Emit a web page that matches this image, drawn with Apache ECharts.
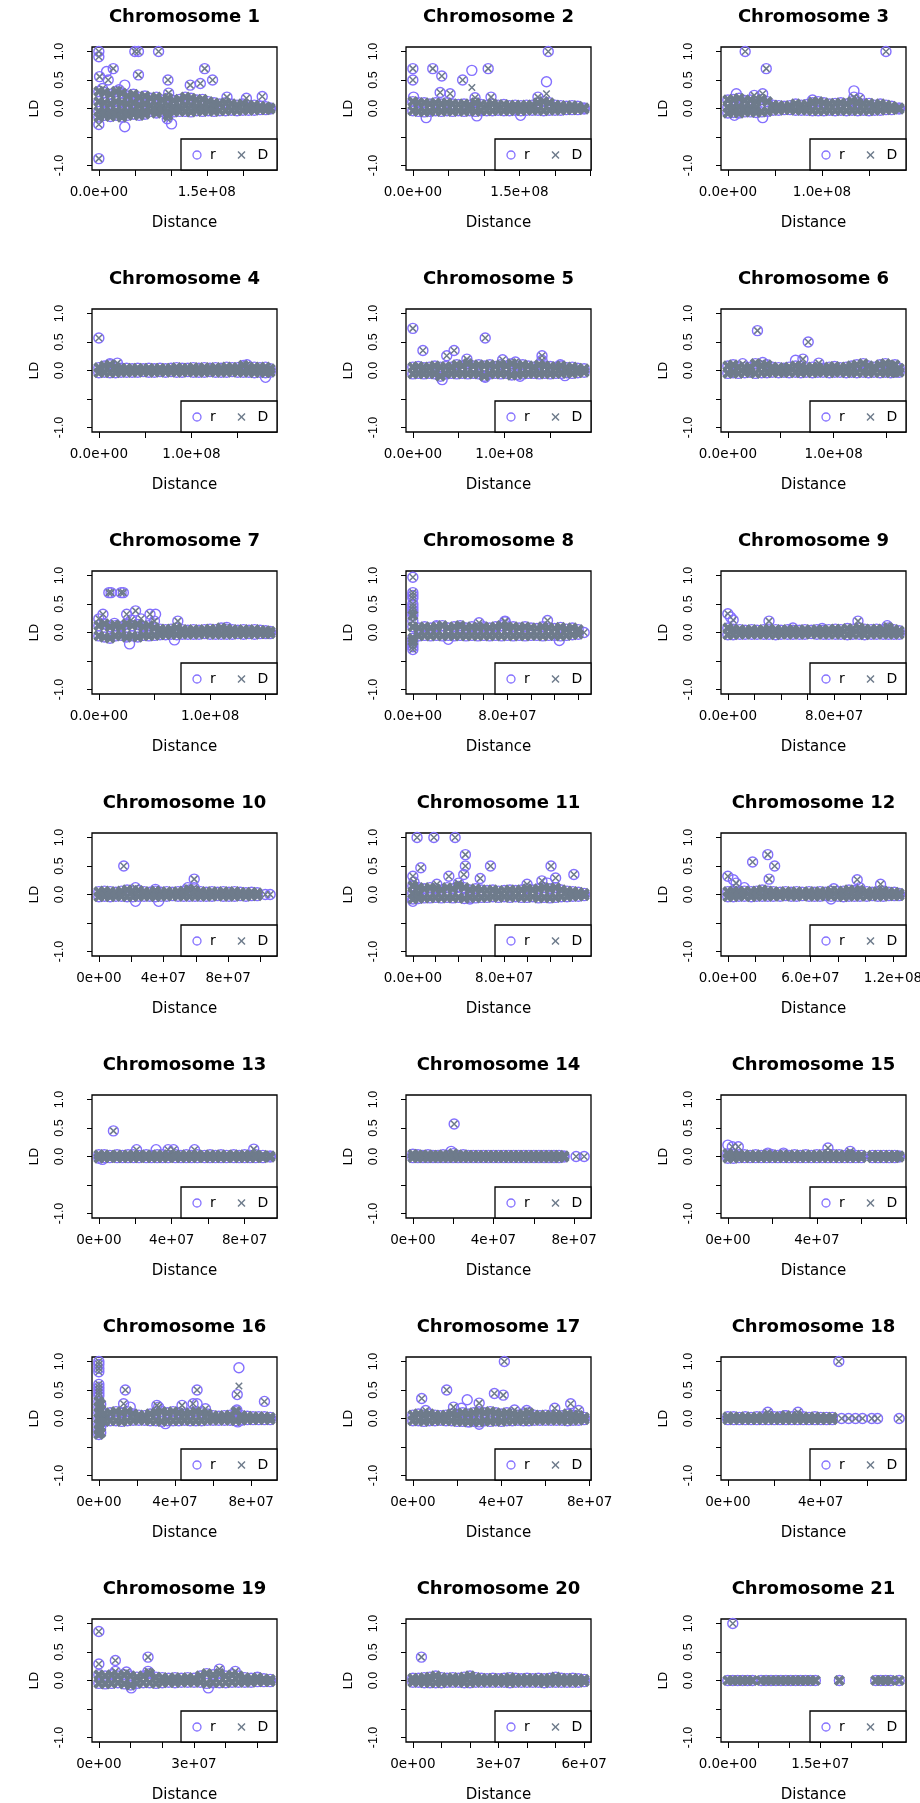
<!DOCTYPE html>
<html><head><meta charset="utf-8">
<script src="https://cdn.jsdelivr.net/npm/echarts@6/dist/echarts.min.js"></script>
<style>html,body{margin:0;padding:0;background:#fff}#c{width:920px;height:1803px}</style>
</head><body><div id="c"></div>
<script>
// ---------- DATA (distances in Mb, LD values) ----------
const chromosomes = ["Chromosome 1","Chromosome 2","Chromosome 3","Chromosome 4","Chromosome 5","Chromosome 6","Chromosome 7","Chromosome 8","Chromosome 9","Chromosome 10","Chromosome 11","Chromosome 12","Chromosome 13","Chromosome 14","Chromosome 15","Chromosome 16","Chromosome 17","Chromosome 18","Chromosome 19","Chromosome 20","Chromosome 21"];
const tickStepMb = [50,50,50,50,50,50,50,20,20,20,20,20,20,20,20,20,20,20,10,10,5];
const xTickLabels = [["0.0e+00","1.5e+08"],["0.0e+00","1.5e+08"],["0.0e+00","1.0e+08"],["0.0e+00","1.0e+08"],["0.0e+00","1.0e+08"],["0.0e+00","1.0e+08"],["0.0e+00","1.0e+08"],["0.0e+00","8.0e+07"],["0.0e+00","8.0e+07"],["0e+00","4e+07","8e+07"],["0.0e+00","8.0e+07"],["0.0e+00","6.0e+07","1.2e+08"],["0e+00","4e+07","8e+07"],["0e+00","4e+07","8e+07"],["0e+00","4e+07"],["0e+00","4e+07","8e+07"],["0e+00","4e+07","8e+07"],["0e+00","4e+07"],["0e+00","3e+07"],["0e+00","3e+07","6e+07"],["0.0e+00","1.5e+07"]];
const yTicks = [-1,-0.5,0,0.5,1];
const yTickLabels = ["1.0","0.5","0.0","-1.0"];
const legendLabels = ["r","D"];

// dense band: each row = [distance, LD values at that distance (r and D coincide)]
const band = [
 [[0,.3,.12,-.05,-.15],[8,.28,.1,-.05,-.12],[16,.25,.08,-.06,-.14],[24,.3,.12,-.04,-.12],[32,.27,.1,-.05,-.15],[40,.22,.08,-.06,-.12],[48,.25,.1,-.04,-.1],[56,.2,.06,-.05,-.12],[64,.22,.08,-.06,-.1],[72,.18,.05,-.05],[80,.2,.06,-.04,-.08],[88,.15,.04,-.05],[96,.18,.05,-.06,-.12],[104,.14,.03,-.06],[112,.16,.04,-.05],[120,.2,.06,-.05],[128,.18,.05,-.06],[136,.15,.04,-.04],[144,.16,.04,-.05],[152,.12,.02,-.04],[160,.1,.02,-.05],[168,.08,-.04],[176,.1,-.04],[184,.08,-.03],[192,.06,-.04],[200,.08,-.03],[208,.05,-.03],[216,.06,-.03],[224,.04,-.02],[232,.03,-.02],[238,.01,-.01]],
 [[0,.12,-.04],[8,.1,-.05],[16,.1,-.06],[24,.08,-.05],[32,.1,-.04],[40,.08,-.05],[48,.1,-.04],[56,.08,-.05],[64,.07,-.04],[72,.08,-.05],[80,.06,-.04],[88,.1,-.05],[96,.07,-.04],[104,.06,-.04],[112,.08,-.04],[120,.06,-.03],[128,.07,-.04],[136,.05,-.04],[144,.06,-.03],[152,.05,-.04],[160,.06,-.03],[168,.06,-.03],[176,.1,-.03],[184,.12,-.04],[192,.1,-.03],[200,.06,-.03],[208,.05,-.03],[216,.04,-.02],[224,.05,-.02],[232,.04,-.02],[241,.01,-.01]],
 [[0,.15,.02,-.08],[6,.16,.02,-.07],[12,.18,.03,-.08],[18,.14,.02,-.06],[24,.15,.02,-.06],[30,.12,.02,-.07],[36,.16,-.06],[42,.12,-.05],[48,.06,-.03],[54,.05,-.03],[60,.04,-.02],[66,.05,-.02],[72,.08,-.03],[78,.06,-.03],[84,.07,-.03],[90,.1,-.04],[96,.12,-.04],[102,.1,-.04],[108,.08,-.03],[114,.09,-.04],[120,.1,-.03],[126,.08,-.04],[132,.12,-.03],[138,.1,-.04],[144,.08,-.03],[150,.09,-.04],[156,.06,-.03],[162,.08,-.03],[168,.06,-.02],[174,.04,-.02],[182,.01,-.01]],
 [[0,.05,-.04],[6,.08,-.03],[12,.1,-.04],[18,.06,-.04],[24,.04,-.03],[30,.04,-.03],[36,.03,-.03],[42,.04,-.03],[48,.03,-.02],[54,.04,-.03],[60,.03,-.03],[66,.04,-.02],[72,.03,-.03],[78,.04,-.02],[84,.05,-.03],[90,.04,-.03],[96,.04,-.02],[102,.05,-.03],[108,.04,-.03],[114,.05,-.03],[120,.04,-.02],[126,.05,-.03],[132,.04,-.03],[138,.06,-.03],[144,.05,-.02],[150,.05,-.03],[156,.09,-.03],[162,.05,-.03],[168,.06,-.04],[174,.05,-.03],[180,.06,-.04],[185,.03,-.03]],
 [[0,.06,-.06],[6,.07,-.05],[12,.05,-.06],[18,.06,-.05],[24,.08,-.06],[30,.06,-.1],[36,.07,-.06],[42,.06,-.05],[48,.1,-.06],[54,.08,-.05],[60,.12,-.06],[66,.08,-.05],[72,.1,-.06],[78,.08,-.1],[84,.1,-.06],[90,.07,-.05],[96,.1,-.06],[102,.08,-.05],[108,.12,-.08],[114,.08,-.07],[120,.1,-.06],[126,.08,-.05],[132,.06,-.05],[138,.1,-.06],[144,.08,-.05],[150,.07,-.06],[156,.06,-.05],[162,.08,-.05],[168,.05,-.04],[174,.06,-.05],[180,.04,-.04],[187,.03,-.03]],
 [[0,.08,-.05],[5,.1,-.04],[10,.06,-.05],[16,.05,-.04],[21,.06,-.03],[26,.12,-.05],[32,.08,-.04],[37,.1,-.04],[42,.06,-.03],[48,.05,-.04],[53,.04,-.03],[58,.06,-.04],[64,.08,-.03],[69,.07,-.04],[74,.05,-.03],[80,.06,-.04],[85,.05,-.03],[90,.04,-.03],[96,.06,-.04],[101,.07,-.03],[106,.05,-.03],[112,.06,-.04],[117,.08,-.03],[122,.1,-.04],[128,.12,-.03],[133,.08,-.04],[138,.06,-.03],[144,.1,-.04],[149,.12,-.03],[154,.08,-.04],[158,.1,-.03],[162,.04,-.03]],
 [[0,.12,-.06],[5,.15,-.08],[10,.1,-.1],[15,.12,-.06],[20,.1,-.05],[25,.15,-.08],[30,.12,-.06],[35,.14,-.08],[40,.1,-.05],[45,.12,-.06],[50,.08,-.05],[55,.06,-.04],[60,.05,-.04],[65,.06,-.03],[70,.08,-.04],[75,.05,-.03],[80,.04,-.03],[85,.05,-.03],[90,.04,-.03],[95,.05,-.02],[100,.06,-.03],[105,.05,-.03],[110,.08,-.03],[115,.06,-.03],[120,.05,-.03],[125,.04,-.02],[130,.05,-.03],[135,.04,-.02],[140,.05,-.03],[145,.04,-.02],[150,.03,-.02],[154,.02,-.02]],
 [[0,.3,.1,-.1,-.15],[5,.08,-.06],[10,.1,-.05],[15,.08,-.06],[20,.1,-.05],[25,.12,-.06],[30,.08,-.05],[35,.1,-.06],[40,.12,-.05],[45,.08,-.06],[50,.1,-.05],[55,.08,-.06],[60,.1,-.05],[65,.08,-.06],[70,.1,-.05],[75,.12,-.06],[80,.08,-.05],[85,.1,-.06],[90,.08,-.05],[95,.1,-.06],[100,.08,-.05],[105,.07,-.05],[110,.1,-.06],[115,.08,-.05],[120,.07,-.05],[125,.09,-.06],[130,.06,-.05],[135,.08,-.04],[140,.05,-.03]],
 [[0,.08,-.04],[4,.06,-.04],[9,.05,-.03],[13,.04,-.03],[18,.05,-.03],[22,.04,-.03],[27,.05,-.03],[31,.06,-.03],[36,.05,-.04],[40,.04,-.03],[45,.05,-.03],[49,.04,-.03],[54,.04,-.03],[58,.05,-.03],[63,.04,-.02],[67,.05,-.03],[72,.04,-.03],[76,.05,-.03],[81,.06,-.03],[85,.05,-.03],[90,.07,-.04],[94,.06,-.03],[99,.08,-.03],[103,.06,-.04],[108,.05,-.03],[112,.06,-.03],[117,.05,-.03],[121,.08,-.03],[125,.05,-.03],[129,.03,-.03]],
 [[0,.05,-.04],[3.5,.06,-.03],[7,.05,-.04],[10.5,.04,-.03],[14,.06,-.03],[17.5,.08,-.04],[21,.06,-.04],[24.5,.07,-.03],[28,.05,-.03],[31.5,.04,-.03],[35,.06,-.04],[38.5,.04,-.03],[42,.05,-.03],[45.5,.04,-.02],[49,.05,-.03],[52.5,.06,-.03],[56,.08,-.03],[59.5,.06,-.03],[63,.05,-.03],[66.5,.04,-.03],[70,.05,-.03],[73.5,.04,-.02],[77,.05,-.03],[80.5,.04,-.03],[84,.05,-.03],[87.5,.04,-.02],[91,.03,-.03],[94.5,.04,-.02],[98,.03,-.02]],
 [[0,.15,.02,-.08],[5,.12,.02,-.07],[10,.1,-.06],[15,.12,-.06],[20,.1,-.05],[25,.08,-.06],[30,.12,-.05],[35,.1,-.06],[40,.14,-.05],[45,.12,-.07],[50,.08,-.05],[55,.1,-.06],[60,.08,-.05],[65,.07,-.05],[70,.08,-.04],[75,.06,-.05],[80,.07,-.04],[85,.08,-.05],[90,.07,-.04],[95,.08,-.05],[100,.1,-.05],[105,.08,-.04],[110,.1,-.06],[115,.12,-.05],[120,.1,-.06],[125,.12,-.05],[130,.08,-.04],[135,.06,-.04],[140,.05,-.03],[145,.04,-.03],[150,.02,-.02]],
 [[0,.05,-.04],[4,.06,-.04],[8,.05,-.03],[12,.06,-.03],[17,.05,-.04],[21,.06,-.03],[25,.08,-.03],[29,.06,-.03],[33,.05,-.03],[38,.04,-.03],[42,.05,-.02],[46,.04,-.03],[50,.05,-.03],[54,.04,-.02],[59,.05,-.03],[63,.04,-.03],[67,.05,-.03],[71,.04,-.02],[75,.06,-.03],[80,.05,-.03],[84,.06,-.04],[88,.08,-.03],[92,.07,-.03],[96,.06,-.03],[101,.05,-.03],[105,.04,-.02],[109,.05,-.03],[113,.06,-.03],[117,.04,-.02],[121,.04,-.02],[124.5,.02,-.02]],
 [[0,.03,-.03],[3,.03,-.02],[6,.02,-.02],[10,.03,-.02],[13,.02,-.02],[16,.03,-.02],[19,.03,-.02],[22,.02,-.02],[26,.03,-.02],[29,.02,-.02],[32,.03,-.02],[35,.03,-.02],[38,.02,-.02],[42,.03,-.02],[45,.02,-.02],[48,.03,-.02],[51,.02,-.02],[54,.03,-.02],[58,.02,-.02],[61,.03,-.02],[64,.02,-.02],[67,.03,-.02],[70,.02,-.02],[74,.03,-.02],[77,.02,-.02],[80,.03,-.02],[83,.02,-.02],[86,.03,-.02],[90,.02,-.02],[94,.01,-.01]],
 [[0,.04,-.02],[2.5,.03,-.02],[5,.02,-.02],[7.5,.03,-.02],[10,.02,-.02],[12.5,.02,-.02],[15,.03,-.02],[17.5,.02,-.02],[20,.05,-.02],[22.5,.02,-.02],[25,.03,-.02],[27.5,.02,-.02],[30,.02,-.02],[32.5,.02,-.02],[35,.02,-.02],[37.5,.02,-.02],[40,.02,-.02],[42.5,.02,-.02],[45,.02,-.02],[47.5,.02,-.02],[50,.02,-.02],[52.5,.02,-.02],[55,.02,-.02],[57.5,.02,-.02],[60,.02,-.02],[62.5,.02,-.02],[65,.02,-.02],[67.5,.02,-.02],[70,.02,-.02],[72.5,.02,-.02],[75,.01,-.01]],
 [[0,.05,-.03],[2.5,.04,-.03],[5,.03,-.02],[7.5,.03,-.02],[10,.02,-.02],[12.5,.03,-.02],[15,.02,-.02],[17.5,.03,-.02],[20,.03,-.02],[22.5,.02,-.02],[25,.03,-.02],[27.5,.02,-.02],[30,.03,-.02],[32.5,.02,-.02],[35,.03,-.02],[37.5,.02,-.02],[40,.03,-.02],[42.5,.03,-.02],[45,.04,-.02],[47.5,.03,-.02],[50,.03,-.02],[52.5,.02,-.02],[55,.03,-.02],[57.5,.02,-.02],[60,.02,-.02],[65,.02,-.02],[67.5,.02,-.02],[70,.02,-.02],[72.5,.02,-.02],[75,.02,-.02],[77,.01,-.01]],
 [[0,.3,.2,.1,0,-.1,-.2,-.28],[1,.25,.15,.05,-.05,-.15,-.25],[3,.08,-.05],[6,.1,-.04],[9,.12,-.04],[12,.1,-.05],[15,.12,-.04],[18,.08,-.03],[21,.06,-.03],[24,.05,-.03],[27,.08,-.04],[30,.1,-.04],[33,.12,-.05],[36,.1,-.04],[39,.12,-.04],[42,.1,-.04],[45,.08,-.03],[48,.1,-.04],[51,.12,-.04],[54,.1,-.04],[57,.08,-.03],[60,.05,-.03],[63,.04,-.03],[66,.05,-.03],[69,.06,-.03],[72,.12,-.04],[75,.05,-.03],[78,.04,-.02],[81,.03,-.02],[84,.03,-.02],[87,.03,-.02],[90,.02,-.02]],
 [[0,.06,-.04],[2.5,.08,-.04],[5,.06,-.05],[7.5,.08,-.04],[10,.06,-.04],[12.5,.05,-.03],[15,.06,-.04],[17.5,.08,-.04],[20,.06,-.05],[22.5,.1,-.05],[25,.08,-.06],[27.5,.1,-.05],[30,.12,-.06],[32.5,.1,-.04],[35,.12,-.05],[37.5,.1,-.04],[40,.08,-.05],[42.5,.1,-.04],[45,.08,-.04],[47.5,.06,-.03],[50,.08,-.04],[52.5,.1,-.04],[55,.06,-.03],[57.5,.05,-.03],[60,.06,-.03],[62.5,.05,-.03],[65,.06,-.03],[67.5,.05,-.03],[70,.08,-.04],[72.5,.06,-.03],[75,.05,-.03],[77.5,.02,-.02]],
 [[0,.03,-.02],[2.5,.03,-.02],[5,.02,-.02],[7.5,.03,-.02],[10,.02,-.02],[12.5,.03,-.02],[15,.03,-.02],[17.5,.04,-.02],[20,.03,-.02],[22.5,.03,-.02],[25,.05,-.02],[27.5,.03,-.02],[30,.04,-.02],[32.5,.03,-.02],[35,.02,-.02],[37.5,.03,-.02],[40,.02,-.02],[42.5,.02,-.02],[45,.02,-.02]],
 [[0,.1,-.05],[2,.08,-.06],[4,.1,-.05],[6,.08,-.04],[8,.1,-.06],[10,.08,-.08],[12,.06,-.05],[14,.08,-.04],[16,.12,-.04],[18,.06,-.05],[20,.05,-.04],[22,.04,-.03],[24,.05,-.04],[26,.04,-.03],[28,.05,-.03],[30,.04,-.03],[32,.08,-.03],[34,.12,-.05],[36,.1,-.04],[38,.12,-.04],[40,.08,-.04],[42,.1,-.03],[44,.08,-.03],[46,.05,-.03],[48,.04,-.03],[50,.05,-.02],[52,.03,-.02],[54,.02,-.02]],
 [[0,.04,-.03],[2,.04,-.03],[4,.05,-.04],[6,.06,-.04],[8,.08,-.04],[10,.05,-.04],[12,.04,-.03],[14,.05,-.03],[16,.04,-.03],[18,.06,-.04],[20,.08,-.04],[22,.05,-.03],[24,.04,-.03],[26,.03,-.03],[28,.04,-.03],[30,.03,-.03],[32,.04,-.03],[34,.05,-.04],[36,.04,-.03],[38,.03,-.03],[40,.04,-.03],[42,.03,-.03],[44,.04,-.03],[46,.03,-.04],[48,.04,-.03],[50,.06,-.03],[52,.04,-.03],[54,.03,-.03],[56,.04,-.03],[58,.03,-.03],[60,.02,-.02]],
 [[0,0],[0.8,0],[1.6,0],[2.4,0],[3.2,0],[4,0],[5.4,0],[6.2,0],[7,0],[7.8,0],[8.6,0],[9.4,0],[10.2,0],[11,0],[11.8,0],[12.6,0],[13.4,0],[14.2,0],[18.1,0],[24,0],[24.8,0],[25.6,0],[26.4,0],[27.8,0]]
];

// isolated points: [distance, r, D]  (null = that statistic not visible apart from the band)
const outliers = [
 [[0,1,1],[0,.91,.91],[0,-.88,-.88],[0,-.28,-.28],[1,.56,.56],[10.7,.65,null],[13,.5,.5],[20,.7,.7],[36,.41,null],[50,1,1],[55,1,1],[55,.59,.59],[83,1,1],[96,.5,.5],[97,.27,.27],[127,.41,.41],[141,.44,.44],[147,.7,.7],[158,.5,.5],[178,.2,.2],[205,.18,.18],[227,.21,.21],[36,-.32,null],[101,-.27,null],[95,-.18,-.18],[5,.35,.35],[28,.33,.33]],
 [[0,.7,.7],[0,.5,.5],[1,.2,null],[28,.7,.7],[40.7,.57,.57],[38.4,.28,.28],[52.4,.26,.26],[70,.5,.5],[83,.67,.37],[87.5,.19,.19],[106,.7,.7],[110,.2,.2],[190.5,1,1],[188,.47,.26],[176,.2,.2],[18.7,-.16,null],[90,-.13,null],[151.6,-.12,null]],
 [[18.4,1,1],[40.8,.7,.7],[168,1,1],[134,.31,null],[134,.2,.2],[9,.26,null],[28,.23,.23],[37,.26,.26],[37,-.16,null],[7,-.12,null],[90,.15,.15],[140,.18,.18]],
 [[0,.57,.57],[12,.12,.12],[20,.13,.13],[160,.1,.1],[180,-.12,null]],
 [[0,.74,.74],[11,.35,.35],[37,.26,.26],[45,.35,.35],[59,.2,.2],[79,.57,.57],[98,.19,.19],[112,.15,.15],[141,.26,.26],[141,.18,.18],[161,.1,.1],[32,-.16,null],[79,-.12,null],[117,-.1,null],[166,-.09,null]],
 [[28,.7,.7],[76,.5,.5],[64,.18,null],[71,.2,.2],[33,.14,.14],[86,.13,.13],[14,.12,.12]],
 [[9,.7,.7],[11,.7,.7],[20,.7,.7],[22,.7,.7],[0,.24,.24],[3.7,.32,.32],[14,.16,.16],[25,.32,.32],[33,.38,.38],[38,.24,.24],[46,.32,.32],[51,.32,null],[50,.2,.2],[29,.22,.22],[27.6,-.2,null],[71,.2,.2],[68,-.13,null],[115,.09,.09]],
 [[0,.97,.97],[0,.7,.7],[0,.65,.65],[0,.6,.6],[0,.5,.5],[0,.45,.45],[0,.4,.4],[0,.35,.35],[0,.2,.2],[0,-.2,-.2],[0,-.25,-.25],[0,-.3,-.3],[56,.17,.17],[78,.19,.19],[78,.2,.2],[114,.21,.21],[79,.12,.12],[20,.12,.12],[40,.09,.09],[124,-.14,null],[30,-.12,null],[145,0,0]],
 [[0,.33,.33],[2,.27,null],[4,.22,.22],[31,.2,.2],[98,.2,.2],[120,.12,.12],[49,.08,.08],[71,.07,.07]],
 [[15.4,.5,.5],[59,.27,.27],[59,.12,.12],[55,.12,.12],[103,0,0],[106,0,0],[22.7,-.12,null],[37,-.12,null],[22.7,.12,.12],[35,.09,.09]],
 [[3.7,1,1],[18.4,1,1],[37,1,1],[7,.47,.47],[46,.7,.7],[46,.5,.5],[44.6,.35,.35],[31.5,.32,.32],[68,.5,.5],[59,.28,.28],[121,.5,.5],[125,.29,.29],[141,.35,.35],[0,.32,.32],[1,.22,.22],[0,-.12,null],[21,.18,.18],[40,.2,.2],[100,.18,.18],[113,.24,.24],[118,.2,null],[50,-.08,null]],
 [[0,.32,.32],[4,.26,null],[6,.2,.2],[18,.57,.57],[29,.7,.7],[30,.27,.27],[34,.5,.5],[94,.26,.26],[111,.18,.18],[96,.12,.12],[77,.1,.1],[75,-.08,null],[12,.12,null]],
 [[8,.45,.45],[20.7,.12,.12],[31.4,.12,null],[38,.12,.12],[41,.12,.12],[52.5,.12,.12],[85,.13,.13],[2,-.05,null]],
 [[20.5,.57,.57],[19,.09,null],[81,0,0],[85,0,0]],
 [[0,.2,null],[2,.17,.17],[4.7,.17,.17],[45,.15,.15],[55,.09,.09],[18,.06,.06],[25,.06,.06]],
 [[0,1,1],[0,.95,.95],[0,.88,.88],[0,.82,.82],[0,.6,.6],[0,.55,.55],[0,.5,.5],[0,.45,.45],[0,.4,.4],[13.9,.5,.5],[13,.26,.26],[16.5,.2,null],[31.4,.2,.2],[30.5,.23,.23],[43.7,.23,.23],[51.6,.5,.5],[49.5,.26,.26],[51.6,.26,null],[56,.17,.17],[73.6,.89,.57],[72.7,.42,.42],[87,.3,.3],[72.5,.15,.15],[73,-.06,null],[35,-.09,null]],
 [[41.4,1,1],[4,.35,.35],[15.3,.5,.5],[24.6,.33,null],[30,.27,.27],[36.9,.44,.44],[40.9,.41,.41],[71.4,.26,.26],[64.2,.18,.18],[18.4,.2,.2],[22,.18,null],[46,.15,.15],[51.5,.14,.14],[5.8,.14,.14],[75,.14,.14],[30,-.1,null],[25.5,-.06,null]],
 [[47.8,1,1],[17.2,.11,.11],[30.2,.11,.11],[24.5,.05,.05],[49,0,0],[52,0,0],[55,0,0],[58,0,0],[62,0,0],[64.5,0,0],[73.8,0,0]],
 [[0,.86,.86],[0,.29,.29],[5.2,.35,.35],[15.5,.41,.41],[15.5,.16,.16],[5.2,.16,.16],[8.7,.15,.15],[38,.2,.2],[43,.16,.16],[34.5,-.13,null],[10.2,-.13,null],[50,.06,.06]],
 [[3,.41,.41]],
 [[0.8,1,1]]
];

// ---------- LAYOUT / STYLE ----------
const colLeft = [92, 406, 721];
const rowTop0 = 47, rowStep = 262, plotW = 185, plotH = 123;
const ringColor = '#8470FF', crossColor = '#6E7B8B';
const crossPath = 'path://M0,0L10,10M10,0L0,10';
const txt = (text, x, y, font, extra) => Object.assign({ type: 'text', x: x, y: y, style: { text: text, fill: '#000', font: font, align: 'center', verticalAlign: 'middle', textAlign: 'center', textVerticalAlign: 'middle' } }, extra || {});

const grids = [], xAxes = [], yAxes = [], series = [], graphics = [];
chromosomes.forEach((name, i) => {
  const col = i % 3, row = Math.floor(i / 3);
  const L = colLeft[col], T = rowTop0 + rowStep * row;
  const bandPts = [], outR = [], outD = [];
  band[i].forEach(rw => { for (let k = 1; k < rw.length; k++) bandPts.push([rw[0], rw[k]]); });
  outliers[i].forEach(o => { if (o[1] !== null) outR.push([o[0], o[1]]); if (o[2] !== null) outD.push([o[0], o[2]]); });
  let M = 0; bandPts.concat(outR, outD).forEach(p => { if (p[0] > M) M = p[0]; });
  const xmin = -0.04 * M, xmax = 1.04 * M;
  const ticks = []; for (let t = 0; t <= xmax + 1e-9; t += tickStepMb[i]) ticks.push(t);
  const labVals = xTickLabels[i].map(s => parseFloat(s) / 1e6);

  grids.push({ left: L, top: T, width: plotW, height: plotH, show: true, borderColor: '#000', borderWidth: 1.3, backgroundColor: 'transparent', containLabel: false, outerBoundsMode: 'none' });
  xAxes.push({ type: 'value', gridIndex: i, position: 'bottom', min: xmin, max: xmax, splitLine: { show: false }, axisLine: { show: false, onZero: false },
    axisTick: { show: true, customValues: ticks, length: 6, lineStyle: { color: '#000', width: 1 } },
    axisLabel: { show: true, customValues: labVals, margin: 15, color: '#000', fontFamily: 'DejaVu Sans', fontSize: 13.5, hideOverlap: false,
      formatter: v => { const k = labVals.findIndex(u => Math.abs(u - v) < 1e-6); return k >= 0 ? xTickLabels[i][k] : ''; } } });
  yAxes.push({ type: 'value', gridIndex: i, position: 'left', min: -1.08, max: 1.08, splitLine: { show: false }, axisLine: { show: false, onZero: false },
    axisTick: { show: true, customValues: yTicks, length: 5, lineStyle: { color: '#000', width: 1 } },
    axisLabel: { show: true, customValues: yTickLabels.map(Number), rotate: 90, margin: 26, color: '#000', fontFamily: 'Liberation Sans', fontSize: 12.5,
      formatter: v => { const k = yTickLabels.findIndex(s => Math.abs(Number(s) - v) < 1e-6); return k >= 0 ? yTickLabels[k] : ''; } } });
  const common = { xAxisIndex: i, yAxisIndex: i, silent: true, animation: false, emphasis: { disabled: true } };
  // r marks (band, then isolated), then D marks on top
  series.push(Object.assign({ type: 'scatter', name: legendLabels[0], data: bandPts, symbol: 'circle', symbolSize: 10,
    itemStyle: { color: 'transparent', borderColor: ringColor, borderWidth: 1.4, opacity: 1 } }, common));
  series.push(Object.assign({ type: 'scatter', name: legendLabels[0], data: outR, symbol: 'circle', symbolSize: 10,
    itemStyle: { color: 'transparent', borderColor: ringColor, borderWidth: 1.4, opacity: 1 } }, common));
  series.push(Object.assign({ type: 'scatter', name: legendLabels[1], data: bandPts, symbol: crossPath, symbolSize: 8.5,
    itemStyle: { color: 'transparent', borderColor: crossColor, borderWidth: 3.8, opacity: 1 } }, common));
  series.push(Object.assign({ type: 'scatter', name: legendLabels[1], data: outD, symbol: crossPath, symbolSize: 6.5,
    itemStyle: { color: 'transparent', borderColor: crossColor, borderWidth: 1.5, opacity: 1 } }, common));

  graphics.push(txt(name, L + plotW / 2, T - 30, 'bold 18px "DejaVu Sans"'));
  graphics.push(txt('Distance', L + plotW / 2, T + plotH + 53, '15px "DejaVu Sans"'));
  graphics.push(txt('LD', L - 58, T + plotH / 2, '13.5px "Liberation Sans"', { rotation: Math.PI / 2 }));
  // legend box
  const lx = L + plotW - 96, ly = T + plotH - 31, lcy = ly + 16;
  graphics.push({ type: 'rect', z: 50, shape: { x: lx, y: ly, width: 96, height: 31 }, style: { fill: '#fff', stroke: '#000', lineWidth: 1.3 } });
  graphics.push({ type: 'circle', z: 51, shape: { cx: lx + 16, cy: lcy, r: 4 }, style: { fill: 'none', stroke: ringColor, lineWidth: 1.3 } });
  graphics.push(txt(legendLabels[0], lx + 32, lcy, '14px "DejaVu Sans"', { z: 51 }));
  graphics.push({ type: 'line', z: 51, shape: { x1: lx + 57, y1: lcy - 3.5, x2: lx + 64, y2: lcy + 3.5 }, style: { stroke: crossColor, lineWidth: 1.5 } });
  graphics.push({ type: 'line', z: 51, shape: { x1: lx + 57, y1: lcy + 3.5, x2: lx + 64, y2: lcy - 3.5 }, style: { stroke: crossColor, lineWidth: 1.5 } });
  graphics.push(txt(legendLabels[1], lx + 82, lcy, '14px "DejaVu Sans"', { z: 51 }));
});

const chart = echarts.init(document.getElementById('c'), null, { renderer: 'canvas' });
chart.setOption({ animation: false, backgroundColor: '#fff', grid: grids, xAxis: xAxes, yAxis: yAxes, series: series, graphic: { elements: graphics } });
</script>
</body></html>
